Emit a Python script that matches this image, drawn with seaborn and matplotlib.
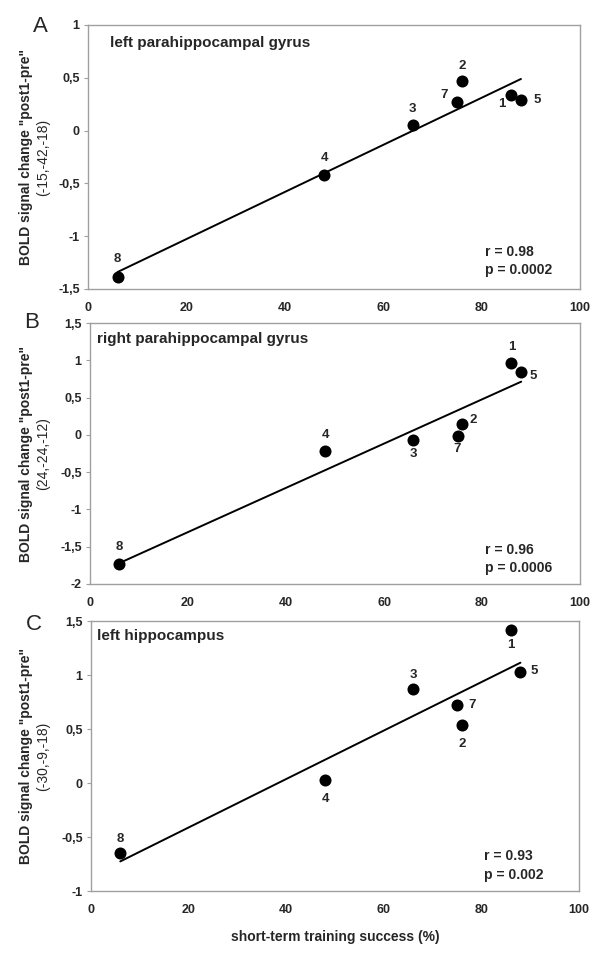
import matplotlib
matplotlib.use("Agg")
import matplotlib.pyplot as plt
import matplotlib.ticker as mticker
import seaborn as sns
import pandas as pd

# ---------------- data ----------------
subjects = ["1", "2", "3", "4", "5", "7", "8"]
success = [86, 76, 66, 48, 88, 75, 6]            # short-term training success (%)
bold_left_phg = [0.34, 0.47, 0.05, -0.42, 0.29, 0.27, -1.39]
bold_right_phg = [0.97, 0.14, -0.07, -0.22, 0.84, -0.01, -1.73]
bold_left_hip = [1.42, 0.54, 0.87, 0.03, 1.03, 0.72, -0.65]

panel_letters = ["A", "B", "C"]
region_names = ["left parahippocampal gyrus", "right parahippocampal gyrus", "left hippocampus"]
coords = ["(-15,-42,-18)", "(24,-24,-12)", "(-30,-9,-18)"]
r_texts = ["r = 0.98", "r = 0.96", "r = 0.93"]
p_texts = ["p = 0.0002", "p = 0.0006", "p = 0.002"]
y_limits = [(-1.5, 1.0), (-2.0, 1.5), (-1.0, 1.5)]
x_label = "short-term training success (%)"
y_label = "BOLD signal change \"post1-pre\""

# ---------------- style / layout ----------------
sns.set_style("white")
plt.rcParams["font.family"] = ["Liberation Sans", "DejaVu Sans"]

W, H = 600, 960
fig = plt.figure(figsize=(W / 100, H / 100), dpi=100)

# axes boxes in pixels: left, top, right, bottom
boxes = [(88, 25, 580, 289), (90, 323, 580, 584), (91, 621, 579, 891)]
letter_pos = [(40, 26), (32, 323), (34, 624)]
title_pos = [(0.045, 0.932), (0.014, 0.939), (0.012, 0.944)]
rp_pos = [((0.807, 0.140), (0.807, 0.072)),
          ((0.806, 0.130), (0.806, 0.061)),
          ((0.805, 0.130), (0.805, 0.059))]
label_offsets = [
    {"1": (-7, -7), "2": (0, 11), "3": (0, 11.5), "4": (0, 12), "5": (12, 0), "7": (-9, 5), "8": (0, 13)},
    {"1": (0, 11), "2": (8, 3), "3": (0, -10), "4": (0, 11.5), "5": (9, -3), "7": (0, -10), "8": (0, 12)},
    {"1": (0, -11), "2": (0, -14), "3": (0, 10), "4": (0, -14), "5": (10, 0.5), "7": (11, 0), "8": (0, 10)},
]

series = [bold_left_phg, bold_right_phg, bold_left_hip]
spine_col = "#a0a0a0"


def comma_fmt(v, pos):
    s = ("%g" % v)
    return s.replace(".", ",")


for i, yvals in enumerate(series):
    l, t, r, b = boxes[i]
    ax = fig.add_axes([l / W, 1 - b / H, (r - l) / W, (b - t) / H])
    df = pd.DataFrame({"success": success, "bold": yvals, "subject": subjects})
    sns.regplot(data=df, x="success", y="bold", ax=ax, ci=None, truncate=True,
                scatter_kws=dict(s=75, color="black", edgecolor="black", linewidths=0, zorder=3, alpha=1),
                line_kws=dict(color="black", lw=1.4, zorder=2))
    ax.set_xlim(0, 100)
    ax.set_ylim(*y_limits[i])
    ax.set_xticks(range(0, 101, 20))
    lo, hi = y_limits[i]
    ticks = [lo + 0.5 * k for k in range(int(round((hi - lo) / 0.5)) + 1)]
    ax.set_yticks(ticks)
    ax.yaxis.set_major_formatter(mticker.FuncFormatter(comma_fmt))
    ax.set_xlabel("")
    ax.set_ylabel("")
    for sp in ax.spines.values():
        sp.set_color(spine_col)
        sp.set_linewidth(1.0)
        sp.set_visible(True)
    ax.tick_params(axis="y", length=3, width=0.8, color=spine_col, pad=3,
                   labelsize=9, left=True)
    ax.tick_params(axis="x", length=0, pad=9.5, labelsize=9)
    for lab in ax.get_xticklabels() + ax.get_yticklabels():
        lab.set_fontweight("bold")

    # point number labels
    for xs, ys, sub in zip(success, yvals, subjects):
        ax.annotate(sub, (xs, ys), xytext=label_offsets[i][sub], textcoords="offset points",
                    ha="center", va="center", fontsize=9.5, fontweight="bold")

    ax.text(*title_pos[i], region_names[i], transform=ax.transAxes, ha="left", va="center",
            fontsize=11, fontweight="bold")
    ax.text(*rp_pos[i][0], r_texts[i], transform=ax.transAxes, ha="left", va="center",
            fontsize=10, fontweight="bold")
    ax.text(*rp_pos[i][1], p_texts[i], transform=ax.transAxes, ha="left", va="center",
            fontsize=10, fontweight="bold")

    yc = 1 - ((t + b) / 2) / H
    fig.text(26 / W, yc, y_label, rotation=90, ha="center", va="center",
             fontsize=10, fontweight="bold")
    fig.text(43 / W, yc, coords[i], rotation=90, ha="center", va="center",
             fontsize=10, fontweight="normal")
    fig.text(letter_pos[i][0] / W, 1 - letter_pos[i][1] / H, panel_letters[i],
             ha="center", va="center", fontsize=16)

    if i == 2:
        fig.text(((l + r) / 2) / W, 1 - 937 / H, x_label, ha="center", va="center",
                 fontsize=10, fontweight="bold")

fig.savefig("out.png", dpi=100)
